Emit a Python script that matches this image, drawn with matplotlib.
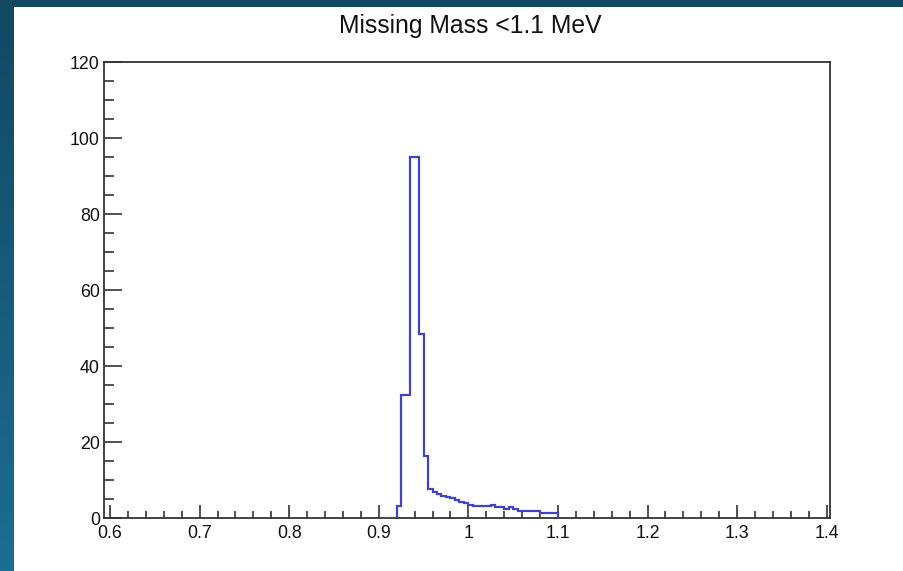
import matplotlib
matplotlib.use("Agg")
import matplotlib.pyplot as plt
import numpy as np
from matplotlib.patches import Rectangle
from matplotlib.ticker import FixedLocator, FixedFormatter, MultipleLocator

# histogram bins (0.9 - 1.1, 40 bins)
bin_edges = np.linspace(0.9, 1.1, 41)
counts = [
    0, 0, 0, 0, 3.2, 32.4, 32.4, 95, 95, 48.5,
    16.4, 7.6, 7.0, 6.3, 5.8, 5.7, 5.3, 4.8, 4.3, 3.9,
    3.6, 3.2, 3.2, 3.2, 3.2, 3.6, 2.9, 2.9, 2.5, 3.0,
    2.5, 2.0, 2.0, 2.0, 2.0, 2.0, 1.5, 1.5, 1.5, 1.5,
]
xticks = [0.6, 0.7, 0.8, 0.9, 1.0, 1.1, 1.2, 1.3, 1.4]
xtick_labels = ["0.6", "0.7", "0.8", "0.9", "1", "1.1", "1.2", "1.3", "1.4"]
yticks = [0, 20, 40, 60, 80, 100, 120]
title = "Missing Mass <1.1 MeV"

plt.rcParams['font.family'] = ['Liberation Sans', 'DejaVu Sans']

W, H = 904, 571
fig = plt.figure(figsize=(W / 100, H / 100), dpi=100)

# dark frame with gradient behind the white canvas
bg = fig.add_axes([0, 0, 1, 1], zorder=-10)
bg.set_axis_off()
grad = np.linspace(0, 1, 256).reshape(-1, 1)
cmap = matplotlib.colors.LinearSegmentedColormap.from_list("bg", ["#124862", "#1b6e93"])
bg.imshow(grad, aspect='auto', cmap=cmap, extent=[0, 1, 0, 1], origin='upper')
bg.set_xlim(0, 1)
bg.set_ylim(0, 1)
bg.add_patch(Rectangle((14 / W, 0), 1 - 14 / W, 1 - 7 / H, facecolor='white',
                       edgecolor='none', transform=bg.transAxes))

# main pad
left, right, top, bottom = 104, 830, 62.3, 518.3
ax = fig.add_axes([left / W, 1 - bottom / H, (right - left) / W, (bottom - top) / H])
ax.set_facecolor('white')

ax.stairs(counts, bin_edges, color='#4242c6', linewidth=1.6, baseline=0, zorder=3)

ax.set_xlim(0.6 - 6 / 896, 1.4 + 3.3 / 896)
ax.set_ylim(0, 120)

ax.xaxis.set_major_locator(FixedLocator(xticks))
ax.xaxis.set_major_formatter(FixedFormatter(xtick_labels))
ax.xaxis.set_minor_locator(MultipleLocator(0.02))
ax.yaxis.set_major_locator(FixedLocator(yticks))
ax.yaxis.set_minor_locator(MultipleLocator(5))

ax.tick_params(axis='both', which='both', direction='in', color='#333333',
               labelcolor='#111111', labelsize=12.8, top=False, right=False)
ax.tick_params(axis='x', which='major', length=9.5, width=1.2, pad=4.5)
ax.tick_params(axis='x', which='minor', length=5, width=1.2)
ax.tick_params(axis='y', which='major', length=13, width=1.2, pad=3)
ax.tick_params(axis='y', which='minor', length=7, width=1.2)

for sp in ax.spines.values():
    sp.set_color('#333333')
    sp.set_linewidth(1.3)

fig.text(470 / W, 1 - 26 / H, title, ha='center', va='center', fontsize=17.8,
         color='#111111')

fig.savefig("out.png", dpi=100)
